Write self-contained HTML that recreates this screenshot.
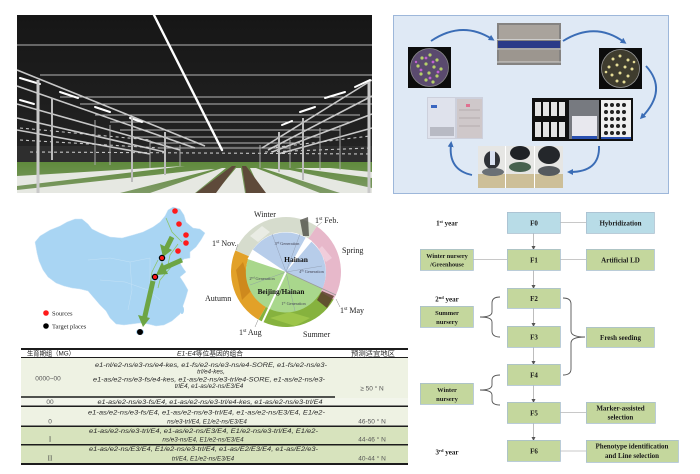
<!DOCTYPE html>
<html><head><meta charset="utf-8">
<style>
html,body{margin:0;padding:0;background:#fff;}
body{width:700px;height:474px;overflow:hidden;}
svg{display:block;}
.ser{font-family:"Liberation Serif","Noto Serif CJK SC",serif;}
.san{font-family:"Liberation Sans","Noto Sans CJK SC",sans-serif;}
</style></head><body>
<svg width="700" height="474" viewBox="0 0 700 474" xmlns="http://www.w3.org/2000/svg">
<defs>
<linearGradient id="sky" x1="0" y1="0" x2="0" y2="1">
<stop offset="0" stop-color="#161616"/><stop offset="0.7" stop-color="#222"/><stop offset="1" stop-color="#2c2c2c"/>
</linearGradient>
<linearGradient id="field" x1="0" y1="0" x2="0" y2="1">
<stop offset="0" stop-color="#5f8a3c"/><stop offset="1" stop-color="#7e9a66"/>
</linearGradient>
<marker id="ah" markerWidth="6" markerHeight="6" refX="3" refY="3" orient="auto" markerUnits="userSpaceOnUse">
<path d="M0,0 L6,3 L0,6 Z" fill="#3b6db6"/>
</marker>
<marker id="sa" markerWidth="4" markerHeight="4" refX="2" refY="2" orient="auto" markerUnits="userSpaceOnUse">
<path d="M0,0 L4,2 L0,4 Z" fill="#555"/>
</marker>
</defs>

<!-- ============ TOP-LEFT PHOTO ============ -->
<rect x="17" y="15" width="355" height="178" fill="url(#sky)"/>
<rect x="17" y="146" width="355" height="17" fill="#2e2e2e"/>
<g stroke="#d0d0d0" stroke-width="1" fill="none" opacity="0.85">
<line x1="17" y1="45" x2="372" y2="45"/>
<line x1="40" y1="75" x2="372" y2="75"/>
<line x1="60" y1="97" x2="372" y2="97"/>
<line x1="80" y1="104" x2="372" y2="104"/>
<line x1="95" y1="115" x2="360" y2="115"/>
<line x1="110" y1="122" x2="350" y2="122"/>
<line x1="120" y1="130" x2="340" y2="130"/>
<line x1="135" y1="137" x2="320" y2="137"/>
<line x1="150" y1="143" x2="300" y2="143"/>
<line x1="160" y1="148" x2="290" y2="148"/>
</g>
<g stroke="#c8c8c8" stroke-width="1.6" fill="none">
<line x1="17" y1="70" x2="205" y2="146"/>
<line x1="17" y1="86" x2="195" y2="148"/>
<line x1="17" y1="104" x2="180" y2="150"/>
<line x1="17" y1="118" x2="165" y2="152"/>
<line x1="17" y1="130" x2="150" y2="154"/>
<line x1="372" y1="80" x2="262" y2="148"/>
<line x1="372" y1="96" x2="268" y2="150"/>
<line x1="372" y1="114" x2="272" y2="152"/>
<line x1="372" y1="128" x2="278" y2="154"/>
</g>
<g stroke="#ffffff" stroke-linecap="round">
<line x1="154" y1="15" x2="222" y2="150" stroke-width="2.4"/>
</g>
<g stroke="#ffffff" stroke-width="2" stroke-linecap="round">
<line x1="20" y1="78" x2="40" y2="84"/>
<line x1="20" y1="100" x2="34" y2="104"/>
<line x1="60" y1="92" x2="78" y2="98"/>
<line x1="95" y1="107" x2="110" y2="112"/>
<line x1="130" y1="118" x2="142" y2="122"/>
<line x1="355" y1="87" x2="370" y2="80"/>
<line x1="325" y1="98" x2="345" y2="92"/>
<line x1="300" y1="112" x2="315" y2="107"/>
<line x1="282" y1="125" x2="292" y2="121"/>
</g>
<g stroke="#e0e0e0" stroke-width="1.1" stroke-dasharray="3 3" opacity="0.85">
<line x1="20" y1="128" x2="150" y2="140"/>
<line x1="20" y1="140" x2="160" y2="148"/>
<line x1="270" y1="148" x2="370" y2="136"/>
<line x1="265" y1="152" x2="370" y2="148"/>
<line x1="30" y1="152" x2="370" y2="154"/>
</g>
<rect x="17" y="162" width="355" height="31" fill="url(#field)"/>
<g fill="#e6e8e2">
<polygon points="17,176 150,168 185,166 17,186"/>
<polygon points="17,190 200,170 215,169 120,193 17,193"/>
<polygon points="150,193 222,168 226,168 195,193"/>
<polygon points="215,193 236,168 241,168 245,193"/>
<polygon points="262,193 250,168 256,168 320,193"/>
<polygon points="340,193 262,168 290,170 372,188 372,193"/>
<polygon points="372,178 295,168 330,168 372,172"/>
</g>
<polygon points="232,166 236,166 216,193 196,193" fill="#5e4a3a"/>
<polygon points="242,166 246,166 266,193 246,193" fill="#5e4a3a"/>
<g stroke="#c9c9c9" stroke-width="3">
<line x1="38" y1="80" x2="38" y2="193"/>
<line x1="369" y1="82" x2="369" y2="193"/>
</g>
<g stroke="#bcbcbc" stroke-width="2">
<line x1="132" y1="118" x2="132" y2="182"/>
<line x1="165" y1="132" x2="165" y2="175"/>
<line x1="303" y1="118" x2="303" y2="180"/>
<line x1="279" y1="132" x2="279" y2="172"/>
<line x1="52" y1="98" x2="52" y2="160"/>
</g>
<g stroke="#aaa" stroke-width="1">
<line x1="95" y1="120" x2="95" y2="165"/><line x1="110" y1="125" x2="110" y2="165"/>
<line x1="150" y1="140" x2="150" y2="168"/><line x1="180" y1="145" x2="180" y2="166"/>
<line x1="260" y1="145" x2="260" y2="168"/><line x1="290" y1="140" x2="290" y2="168"/>
<line x1="320" y1="128" x2="320" y2="170"/><line x1="340" y1="125" x2="340" y2="170"/>
</g>

<!-- ============ TOP-RIGHT PANEL ============ -->
<rect x="393.5" y="15.5" width="275" height="178" fill="#dfe9f5" stroke="#9db7da" stroke-width="1"/>
<rect x="408" y="47" width="43" height="41" fill="#0c0c0c"/>
<circle cx="429.5" cy="67.5" r="19" fill="#5a4a6e" stroke="#888" stroke-width="0.8"/>
<g fill="#b6d06a">
<circle cx="422" cy="58" r="1.6"/><circle cx="430" cy="55" r="1.6"/><circle cx="437" cy="60" r="1.6"/>
<circle cx="418" cy="66" r="1.6"/><circle cx="426" cy="64" r="1.6"/><circle cx="434" cy="67" r="1.6"/>
<circle cx="441" cy="69" r="1.6"/><circle cx="421" cy="74" r="1.6"/><circle cx="429" cy="73" r="1.6"/>
<circle cx="437" cy="76" r="1.6"/><circle cx="426" cy="80" r="1.6"/><circle cx="433" cy="82" r="1.6"/>
</g>
<g fill="#c060d0">
<circle cx="426" cy="58" r="1.4"/><circle cx="433" cy="62" r="1.4"/><circle cx="421" cy="70" r="1.4"/>
<circle cx="438" cy="72" r="1.4"/><circle cx="430" cy="78" r="1.4"/><circle cx="416" cy="62" r="1.2"/>
</g>
<rect x="497" y="23" width="64" height="42" fill="#858381"/>
<rect x="499" y="25" width="60" height="14" fill="#a9a39c"/>
<rect x="498" y="41" width="62" height="7" fill="#2b3b88"/>
<rect x="499" y="50" width="60" height="12" fill="#9c968f"/>
<g stroke="#e6e6e6" stroke-width="0.8"><line x1="497" y1="39.5" x2="561" y2="39.5"/><line x1="497" y1="49" x2="561" y2="49"/><line x1="497" y1="62" x2="561" y2="62"/></g>
<rect x="599" y="48" width="43" height="41" fill="#0c0c0c"/>
<circle cx="620.5" cy="68.5" r="19" fill="#3f3c2e" stroke="#999" stroke-width="0.8"/>
<g fill="#e6dc96">
<circle cx="613" cy="59" r="1.5"/><circle cx="620" cy="56" r="1.5"/><circle cx="628" cy="60" r="1.5"/>
<circle cx="609" cy="67" r="1.5"/><circle cx="617" cy="65" r="1.5"/><circle cx="625" cy="67" r="1.5"/>
<circle cx="632" cy="69" r="1.5"/><circle cx="612" cy="75" r="1.5"/><circle cx="620" cy="73" r="1.5"/>
<circle cx="628" cy="76" r="1.5"/><circle cx="617" cy="81" r="1.5"/><circle cx="624" cy="82" r="1.5"/>
<circle cx="634" cy="62" r="1.3"/><circle cx="606" cy="72" r="1.3"/>
</g>
<rect x="427" y="97" width="56" height="42" fill="#cdd0dc"/>
<rect x="428" y="98" width="27" height="40" fill="#dfe2ec"/>
<rect x="431" y="105" width="6" height="3" fill="#3a66c0"/>
<rect x="430" y="127" width="24" height="9" fill="#b8bac4"/>
<rect x="457" y="99" width="25" height="39" fill="#cfc8ca"/>
<g stroke="#9a9090" stroke-width="0.6"><line x1="459" y1="110" x2="480" y2="110"/><line x1="459" y1="118" x2="480" y2="118"/><line x1="459" y1="126" x2="480" y2="126"/></g>
<rect x="466" y="104" width="4" height="3" fill="#e07090"/>
<rect x="532" y="98" width="101" height="43" fill="#101010"/>
<g fill="#e4e4e4">
<rect x="535" y="102" width="6" height="14"/><rect x="543" y="102" width="6" height="14"/><rect x="551" y="102" width="6" height="14"/><rect x="559" y="102" width="6" height="14"/>
<rect x="535" y="122" width="6" height="15"/><rect x="543" y="122" width="6" height="15"/><rect x="551" y="122" width="6" height="15"/><rect x="559" y="122" width="6" height="15"/>
</g>
<rect x="569" y="100" width="30" height="39" fill="#777a80"/>
<rect x="572" y="116" width="25" height="20" fill="#e8e8ee"/>
<rect x="572" y="136" width="25" height="3" fill="#2a50b0"/>
<rect x="601" y="100" width="30" height="39" fill="#f0f0f0"/>
<g fill="#222">
<circle cx="606" cy="105" r="2"/><circle cx="612" cy="105" r="2"/><circle cx="618" cy="105" r="2"/><circle cx="624" cy="105" r="2"/>
<circle cx="606" cy="112" r="2"/><circle cx="612" cy="112" r="2"/><circle cx="618" cy="112" r="2"/><circle cx="624" cy="112" r="2"/>
<circle cx="606" cy="119" r="2"/><circle cx="612" cy="119" r="2"/><circle cx="618" cy="119" r="2"/><circle cx="624" cy="119" r="2"/>
<circle cx="606" cy="126" r="2"/><circle cx="612" cy="126" r="2"/><circle cx="618" cy="126" r="2"/><circle cx="624" cy="126" r="2"/>
<circle cx="606" cy="133" r="2"/><circle cx="612" cy="133" r="2"/><circle cx="618" cy="133" r="2"/><circle cx="624" cy="133" r="2"/>
</g>
<rect x="601" y="137" width="30" height="2" fill="#2a50b0"/>
<rect x="478" y="146" width="85" height="42" fill="#e6e6e4"/>
<rect x="478" y="174" width="85" height="14" fill="#cdbf98"/>
<rect x="505" y="146" width="1" height="42" fill="#fff"/>
<rect x="534" y="146" width="1" height="42" fill="#fff"/>
<ellipse cx="492" cy="160" rx="8" ry="9" fill="#2f3237"/>
<rect x="490" y="151" width="5" height="14" fill="#d8e0f0"/>
<ellipse cx="493" cy="172" rx="11" ry="4" fill="#6a7075"/>
<ellipse cx="520" cy="153" rx="10" ry="7" fill="#1f2226"/>
<ellipse cx="520" cy="167" rx="11" ry="5" fill="#47624f"/>
<ellipse cx="549" cy="155" rx="11" ry="9" fill="#24272b"/>
<ellipse cx="549" cy="171" rx="11" ry="5" fill="#555a5e"/>
<g fill="none" stroke="#3b6db6" stroke-width="1.9" marker-end="url(#ah)">
<path d="M431,41 Q462,20 492,39"/>
<path d="M563,41 Q595,21 624,42"/>
<path d="M646,66 Q668,90 642,117"/>
<path d="M599,146 Q600,172 570,172"/>
<path d="M472,175 Q448,170 451,144"/>
</g>

<!-- ============ MAP ============ -->
<polygon fill="#a9d5f3" stroke="#cfe6f8" stroke-width="0.5" points="35,242 40,236 50,230 60,226 67,222 75,219 82,219 88,224 92,229 100,233 110,237 122,238 133,235 143,232 153,227 160,222 165,216 168,210 173,207 180,209 184,215 186,222 193,228 200,229 205,233 201,240 196,247 190,252 190,258 184,259 180,263 183,268 186,272 180,277 184,283 188,290 186,297 184,303 180,314 172,321 164,325 156,326 148,324 140,323 132,324 124,325 116,324 110,318 106,311 100,305 94,298 88,291 80,289 72,288 64,286 56,283 48,277 43,270 39,261 37,253"/>
<ellipse cx="182" cy="310" rx="2" ry="4" fill="#a9d5f3"/>
<ellipse cx="140" cy="332" rx="4" ry="3" fill="#a9d5f3"/>
<g stroke="#c4e2f7" stroke-width="0.5" fill="none">
<path d="M88,260 L110,258 L130,262 L150,258"/><path d="M100,280 L125,282 L148,290 L160,300"/><path d="M130,262 L132,290 L128,310"/><path d="M150,258 L150,300"/>
</g>
<g stroke="#8cc46a" stroke-width="0.8" fill="none">
<path d="M166,218 L172,232 L182,242"/>
<path d="M178,244 L170,255 L168,265"/>
<path d="M158,260 L152,272 L150,286"/>
<path d="M172,266 L160,280 L158,288"/>
</g>
<g stroke="#6da544" stroke-width="5" fill="none">
<line x1="172" y1="237" x2="166.5" y2="248"/>
<line x1="182" y1="260" x2="164" y2="268"/>
<line x1="153" y1="281" x2="144.5" y2="318"/>
</g>
<g fill="#6da544">
<polygon points="160,244 172,250 163,257"/>
<polygon points="162,262 168,274 156,275"/>
<polygon points="138,315 150,318 143,327"/>
</g>
<g fill="#ff1a1a">
<circle cx="175" cy="211" r="2.8"/><circle cx="179" cy="224" r="2.8"/><circle cx="186" cy="235" r="2.8"/><circle cx="186" cy="243" r="2.8"/><circle cx="178" cy="251" r="2.8"/>
</g>
<circle cx="162" cy="258" r="2.6" fill="#ff1a1a" stroke="#000" stroke-width="1.2"/>
<circle cx="155" cy="277" r="2.6" fill="#ff1a1a" stroke="#000" stroke-width="1.2"/>
<circle cx="140" cy="332" r="3" fill="#000"/>
<circle cx="46" cy="313" r="2.8" fill="#ff1a1a"/>
<circle cx="46" cy="326" r="2.8" fill="#000"/>
<text class="ser" x="52" y="315.5" font-size="6.5" fill="#222">Sources</text>
<text class="ser" x="52" y="328.5" font-size="6.5" fill="#222">Target places</text>

<!-- ============ SEASON WHEEL ============ -->
<path d="M235.4,250.5 A55,55 0 0 1 316.8,226.4 L308.4,238.8 A40,40 0 0 0 249.2,256.4 Z" fill="#d6dccd"/>
<path d="M316.8,226.4 A55,55 0 0 1 333.6,299.5 L320.6,292 A40,40 0 0 0 308.4,238.8 Z" fill="#e7b8ca"/>
<path d="M333.6,299.5 A55,55 0 0 1 258.5,319.6 L266,306.6 A40,40 0 0 0 320.6,292 Z" fill="#86b23e"/>
<path d="M258.5,319.6 A55,55 0 0 1 235.4,250.5 L249.2,256.4 A40,40 0 0 0 266,306.6 Z" fill="#e2a128"/>
<path d="M300,220 L308,217 L309,236 L303,236 Z" fill="#3b3a33" opacity="0.7"/>
<path d="M322,291 L334,296 L327,308 L317,300 Z" fill="#5a3f2c" opacity="0.85"/>
<path d="M243,262 L236,270 L242,300 L252,290 Z" fill="#c27a15" opacity="0.6"/>
<path d="M270,318 L295,326 L310,318 L290,312 Z" fill="#a6cd50" opacity="0.7"/>
<path d="M250,236 L262,226 L270,232 L258,242 Z" fill="#eef0ea" opacity="0.8"/>
<path d="M322,246 L332,258 L326,262 L318,250 Z" fill="#f2d2de" opacity="0.8"/>
<path d="M286,272 L249.2,256.4 A40,40 0 1 1 322.3,288.9 Z" fill="#b7cdea"/>
<path d="M286,272 L322.3,288.9 A40,40 0 0 1 249.2,256.4 Z" fill="#a9d78c"/>
<g stroke="#8a95a8" stroke-width="0.4">
<line x1="286" y1="272" x2="272" y2="234"/><line x1="286" y1="272" x2="322" y2="266"/><line x1="286" y1="272" x2="300" y2="234"/>
<line x1="286" y1="272" x2="250" y2="285"/><line x1="286" y1="272" x2="295" y2="311"/>
</g>
<polygon points="286,272 247.5,259 252.5,249.5" fill="#fff"/>
<polygon points="287,271 306,237 312,241" fill="#fff"/>
<line x1="286" y1="272" x2="262.5" y2="322" stroke="#fff" stroke-width="2"/>
<line x1="286" y1="272" x2="336" y2="295" stroke="#9a9a9a" stroke-width="0.8"/>
<g stroke="#888" stroke-width="0.5">
<line x1="316.8" y1="226.4" x2="322" y2="222"/><line x1="236" y1="250" x2="238" y2="244"/><line x1="336" y1="299" x2="340" y2="307"/><line x1="258" y1="320" x2="255" y2="327"/>
</g>
<text class="ser" x="296" y="262" font-size="7.5" font-weight="bold" text-anchor="middle" fill="#111">Hainan</text>
<text class="ser" x="281" y="294" font-size="7.2" font-weight="bold" text-anchor="middle" fill="#111">Beijing/Hainan</text>
<text class="ser" x="287" y="245" font-size="4.3" text-anchor="middle" fill="#445">3<tspan font-size="3" dy="-1.5">rd</tspan><tspan dy="1.5"> Generation</tspan></text>
<text class="ser" x="311.5" y="273" font-size="4.3" text-anchor="middle" fill="#445">4<tspan font-size="3" dy="-1.5">th</tspan><tspan dy="1.5"> Generation</tspan></text>
<text class="ser" x="262" y="280" font-size="4.3" text-anchor="middle" fill="#445">2<tspan font-size="3" dy="-1.5">nd</tspan><tspan dy="1.5"> Generation</tspan></text>
<text class="ser" x="293.5" y="305" font-size="4.3" text-anchor="middle" fill="#445">1<tspan font-size="3" dy="-1.5">st</tspan><tspan dy="1.5"> Generation</tspan></text>
<g class="ser" font-size="8" fill="#222">
<text x="254" y="217">Winter</text>
<text x="315" y="223">1<tspan font-size="5" dy="-3">st</tspan><tspan dy="3"> Feb.</tspan></text>
<text x="342" y="253">Spring</text>
<text x="212" y="246">1<tspan font-size="5" dy="-3">st</tspan><tspan dy="3"> Nov.</tspan></text>
<text x="205" y="301">Autumn</text>
<text x="340" y="313">1<tspan font-size="5" dy="-3">st</tspan><tspan dy="3"> May</tspan></text>
<text x="239" y="335">1<tspan font-size="5" dy="-3">st</tspan><tspan dy="3"> Aug</tspan></text>
<text x="303" y="337">Summer</text>
</g>

<!-- ============ TABLE ============ -->
<rect x="21" y="358" width="387" height="40" fill="#eef2e3"/>
<rect x="21" y="398" width="387" height="8" fill="#f2f5eb"/>
<rect x="21" y="407" width="387" height="19" fill="#eef2e3"/>
<rect x="21" y="427" width="387" height="37" fill="#d7e3bd"/>
<g stroke="#1c1c1c">
<line x1="21" y1="349" x2="408" y2="349" stroke-width="2"/>
<line x1="21" y1="357.5" x2="408" y2="357.5" stroke-width="1"/>
<line x1="21" y1="397" x2="335" y2="397" stroke-width="1.5"/>
<line x1="21" y1="406.2" x2="408" y2="406.2" stroke-width="1.5"/>
<line x1="21" y1="426.2" x2="408" y2="426.2" stroke-width="1.5"/>
<line x1="21" y1="444.8" x2="408" y2="444.8" stroke-width="1.5"/>
<line x1="21" y1="464" x2="408" y2="464" stroke-width="2"/>
</g>
<g class="san" font-size="6.5" fill="#222">
<text x="27" y="355.5" textLength="48" lengthAdjust="spacingAndGlyphs">生育期组（MG）</text>
<text x="177" y="355.5" textLength="66" lengthAdjust="spacingAndGlyphs"><tspan font-style="italic">E1-E4</tspan>等位基因的组合</text>
<text x="351" y="355.5" textLength="44" lengthAdjust="spacingAndGlyphs">预测适宜地区</text>
</g>
<g class="san" font-size="6.3" font-style="italic" fill="#2a2a2a" text-anchor="middle">
<text x="211" y="367" textLength="232" lengthAdjust="spacingAndGlyphs">e1-nl/e2-ns/e3-ns/e4-kes, e1-fs/e2-ns/e3-ns/e4-SORE, e1-fs/e2-ns/e3-</text>
<text x="211" y="373.5">trl/e4-kes,</text>
<text x="209" y="381.5" textLength="232" lengthAdjust="spacingAndGlyphs">e1-as/e2-ns/e3-fs/e4-kes, e1-as/e2-ns/e3-trl/e4-SORE, e1-as/e2-ns/e3-</text>
<text x="209" y="388">trlE4, e1-as/e2-ns/E3/E4</text>
<text x="210" y="404" textLength="225" lengthAdjust="spacingAndGlyphs">e1-as/e2-ns/e3-fs/E4, e1-as/e2-ns/e3-trl/e4-kes, e1-as/e2-ns/e3-trl/E4</text>
<text x="206.5" y="414.5" textLength="237" lengthAdjust="spacingAndGlyphs">e1-as/e2-ns/e3-fs/E4, e1-as/e2-ns/e3-trl/E4, e1-as/e2-ns/E3/E4, E1/e2-</text>
<text x="207" y="423.5">ns/e3-trl/E4, E1/e2-ns/E3/E4</text>
<text x="203.5" y="433" textLength="229" lengthAdjust="spacingAndGlyphs">e1-as/e2-ns/e3-trl/E4, e1-as/e2-ns/E3/E4, E1/e2-ns/e3-trl/E4, E1/e2-</text>
<text x="203" y="441.5">ns/e3-ns/E4, E1/e2-ns/E3/E4</text>
<text x="203.5" y="451" textLength="229" lengthAdjust="spacingAndGlyphs">e1-as/e2-ns/E3/E4, E1/e2-ns/e3-trl/E4, e1-as/E2/E3/E4, e1-as/E2/e3-</text>
<text x="203" y="460.5">trl/E4, E1/e2-ns/E3/E4</text>
</g>
<g class="san" font-size="6.5" fill="#555" text-anchor="middle">
<text x="48" y="380.5">0000~00</text>
<text x="50" y="404">00</text>
<text x="50" y="423.5">0</text>
<text x="372" y="390.5">≥ 50 ° N</text>
<text x="372" y="423.5">46-50 ° N</text>
<text x="372" y="441.5">44-46 ° N</text>
<text x="372" y="460.5">40-44 ° N</text>
</g>
<g class="ser" font-size="7" fill="#444" text-anchor="middle">
<text x="50" y="441.5">I</text>
<text x="50" y="460.5">II</text>
</g>

<!-- ============ FLOWCHART ============ -->
<g stroke="#c8c8c8" stroke-width="1">
<line x1="560" y1="222.5" x2="586" y2="222.5"/>
<line x1="473" y1="259.5" x2="507" y2="259.5"/>
<line x1="560" y1="259.5" x2="586" y2="259.5"/>
<line x1="560" y1="412.5" x2="586" y2="412.5"/>
<line x1="560" y1="451" x2="586" y2="451"/>
</g>
<g stroke="#bdbdbd" stroke-width="1" marker-end="url(#sa)">
<line x1="533.5" y1="233" x2="533.5" y2="248"/>
<line x1="533.5" y1="270" x2="533.5" y2="287"/>
<line x1="533.5" y1="308" x2="533.5" y2="325"/>
<line x1="533.5" y1="347" x2="533.5" y2="363"/>
<line x1="533.5" y1="385" x2="533.5" y2="401"/>
<line x1="533.5" y1="423" x2="533.5" y2="439"/>
</g>
<g fill="none" stroke="#555" stroke-width="0.9">
<path d="M500,297 Q492,297 492,303 L492,312 Q492,317 480,317 Q492,317 492,322 L492,331 Q492,337 500,337"/>
<path d="M500,375 Q492,375 492,380 L492,385 Q492,390 480,390 Q492,390 492,395 L492,400 Q492,405 500,405"/>
<path d="M563,298 Q571,298 571,304 L571,331 Q571,337 585,337 Q571,337 571,343 L571,369 Q571,375 563,375"/>
</g>
<g stroke="#a8bfcf" stroke-width="0.8">
<rect x="507.4" y="212.4" width="53" height="21" fill="#b8dce7"/>
<rect x="586.4" y="212.4" width="68" height="21" fill="#b8dce7"/>
<rect x="507.4" y="249.4" width="53" height="21" fill="#c4d79d"/>
<rect x="420.4" y="249.4" width="53" height="21" fill="#c4d79d"/>
<rect x="586.4" y="249.4" width="68" height="21" fill="#c4d79d"/>
<rect x="507.4" y="288.4" width="53" height="20" fill="#c4d79d"/>
<rect x="420.4" y="306.4" width="53" height="21" fill="#c4d79d"/>
<rect x="507.4" y="326.4" width="53" height="21" fill="#c4d79d"/>
<rect x="586.4" y="327.4" width="68" height="20" fill="#c4d79d"/>
<rect x="507.4" y="364.4" width="53" height="21" fill="#c4d79d"/>
<rect x="420.4" y="383.4" width="53" height="21" fill="#c4d79d"/>
<rect x="507.4" y="402.4" width="53" height="21" fill="#c4d79d"/>
<rect x="586.4" y="402.4" width="69" height="21" fill="#c4d79d"/>
<rect x="507.4" y="440.4" width="53" height="21" fill="#c4d79d"/>
<rect x="586.4" y="440.4" width="92" height="22" fill="#c4d79d"/>
</g>
<g class="ser" font-size="7" font-weight="bold" fill="#1a1a1a" text-anchor="middle">
<text x="534" y="225.5">F0</text>
<text x="620.5" y="225.5">Hybridization</text>
<text x="534" y="262.5">F1</text>
<text x="620.5" y="262.5">Artificial LD</text>
<text x="447" y="258" font-size="6.3">Winter nursery</text>
<text x="447" y="266.5" font-size="6.3">/Greenhouse</text>
<text x="534" y="301">F2</text>
<text x="447" y="315" font-size="6.5">Summer</text>
<text x="447" y="324" font-size="6.5">nursery</text>
<text x="534" y="339.5">F3</text>
<text x="620.5" y="340">Fresh seeding</text>
<text x="534" y="377.5">F4</text>
<text x="447" y="392" font-size="6.5">Winter</text>
<text x="447" y="401" font-size="6.5">nursery</text>
<text x="534" y="415.5">F5</text>
<text x="620.5" y="410.5">Marker-assisted</text>
<text x="620.5" y="419.5">selection</text>
<text x="534" y="453.5">F6</text>
<text x="632" y="448.5">Phenotype identification</text>
<text x="632" y="458">and Line selection</text>
<text x="447" y="225.5">1<tspan font-size="4.5" dy="-2.5">st</tspan><tspan dy="2.5"> year</tspan></text>
<text x="447" y="301.5">2<tspan font-size="4.5" dy="-2.5">nd</tspan><tspan dy="2.5"> year</tspan></text>
<text x="447" y="454.5">3<tspan font-size="4.5" dy="-2.5">rd</tspan><tspan dy="2.5"> year</tspan></text>
</g>
</svg>
</body></html>
